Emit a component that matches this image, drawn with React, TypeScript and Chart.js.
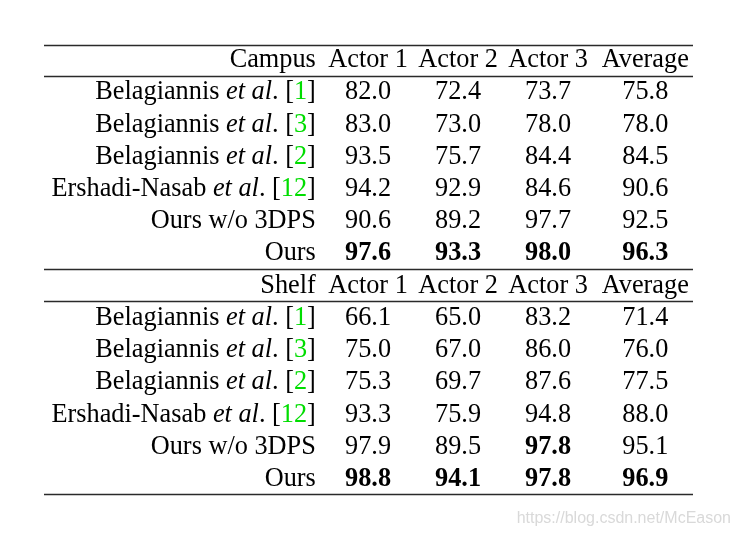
import React, { useEffect, useRef } from "react";
import { Chart, registerables } from "chart.js";

Chart.register(...registerables);

// ---- data ----
const SECTIONS = ["Campus", "Shelf"];
const COLUMN_HEADERS = ["Actor 1", "Actor 2", "Actor 3", "Average"];
const METHOD_NAMES = ["Belagiannis", "Belagiannis", "Belagiannis", "Ershadi-Nasab", "Ours w/o 3DPS", "Ours"];
const METHOD_REFS = ["1", "3", "2", "12", "", ""];

const CAMPUS_ACTOR1 = [82.0, 83.0, 93.5, 94.2, 90.6, 97.6];
const CAMPUS_ACTOR2 = [72.4, 73.0, 75.7, 92.9, 89.2, 93.3];
const CAMPUS_ACTOR3 = [73.7, 78.0, 84.4, 84.6, 97.7, 98.0];
const CAMPUS_AVERAGE = [75.8, 78.0, 84.5, 90.6, 92.5, 96.3];

const SHELF_ACTOR1 = [66.1, 75.0, 75.3, 93.3, 97.9, 98.8];
const SHELF_ACTOR2 = [65.0, 67.0, 69.7, 75.9, 89.5, 94.1];
const SHELF_ACTOR3 = [83.2, 86.0, 87.6, 94.8, 97.8, 97.8];
const SHELF_AVERAGE = [71.4, 76.0, 77.5, 88.0, 95.1, 96.9];

const SECTION_VALUES = [
  [CAMPUS_ACTOR1, CAMPUS_ACTOR2, CAMPUS_ACTOR3, CAMPUS_AVERAGE],
  [SHELF_ACTOR1, SHELF_ACTOR2, SHELF_ACTOR3, SHELF_AVERAGE],
];

const WATERMARK = "https://blog.csdn.net/McEason";

// ---- layout (scale units) ----
const COLUMN_X = [0.42, 1, 2, 3, 4.08]; // first column is right-aligned anchor
const X_MIN = -2.6;
const X_MAX = 4.61;
const Y_MIN = -0.69;
const Y_MAX = 13.25;
const RULES = [Y_MIN, 0.27, 6.27, 7.27, Y_MAX];
const FONT = '"Liberation Serif", "Times New Roman", serif';
const FONT_SIZE = 26.3;

type Cell = { x: number; y: number; text: string; kind: string; ref?: string };

function buildCells(): Cell[] {
  const cells: Cell[] = [];
  SECTIONS.forEach((sec, s) => {
    const base = s * 7;
    cells.push({ x: COLUMN_X[0], y: base, text: sec, kind: "label" });
    COLUMN_HEADERS.forEach((h, c) => cells.push({ x: COLUMN_X[c + 1], y: base, text: h, kind: "normal" }));
    METHOD_NAMES.forEach((m, i) => {
      cells.push({ x: COLUMN_X[0], y: base + 1 + i, text: m, kind: "method", ref: METHOD_REFS[i] });
    });
    SECTION_VALUES[s].forEach((col, c) => {
      const best = Math.max(...col);
      col.forEach((v, i) => {
        cells.push({ x: COLUMN_X[c + 1], y: base + 1 + i, text: v.toFixed(1), kind: v === best ? "bold" : "normal" });
      });
    });
  });
  return cells;
}

const tablePlugin = {
  id: "tableText",
  afterDatasetsDraw(chart: any) {
    const ctx: CanvasRenderingContext2D = chart.ctx;
    const { left, right } = chart.chartArea;
    const yScale = chart.scales.y;
    ctx.save();
    // rules
    ctx.strokeStyle = "#2a2a2a";
    ctx.lineWidth = 1.4;
    RULES.forEach((r) => {
      const y = Math.round(yScale.getPixelForValue(r)) + 0.5;
      ctx.beginPath();
      ctx.moveTo(left, y);
      ctx.lineTo(right, y);
      ctx.stroke();
    });
    // text
    const meta = chart.getDatasetMeta(0);
    const data: Cell[] = chart.data.datasets[0].data;
    ctx.textBaseline = "alphabetic";
    meta.data.forEach((pt: any, i: number) => {
      const cell = data[i];
      const px = pt.x;
      const py = pt.y;
      if (cell.kind === "method" || cell.kind === "label") {
        const segs: { t: string; f: string; c: string }[] = [];
        const normal = `${FONT_SIZE}px ${FONT}`;
        const italic = `italic ${FONT_SIZE}px ${FONT}`;
        segs.push({ t: cell.text, f: normal, c: "#000" });
        if (cell.ref) {
          segs.push({ t: " ", f: normal, c: "#000" });
          segs.push({ t: "et al", f: italic, c: "#000" });
          segs.push({ t: ". [", f: normal, c: "#000" });
          segs.push({ t: cell.ref, f: normal, c: "#00dd00" });
          segs.push({ t: "]", f: normal, c: "#000" });
        }
        let total = 0;
        segs.forEach((s) => {
          ctx.font = s.f;
          total += ctx.measureText(s.t).width;
        });
        let x = px - total;
        ctx.textAlign = "left";
        segs.forEach((s) => {
          ctx.font = s.f;
          ctx.fillStyle = s.c;
          ctx.fillText(s.t, x, py);
          x += ctx.measureText(s.t).width;
        });
      } else {
        ctx.font = `${cell.kind === "bold" ? "bold " : ""}${FONT_SIZE}px ${FONT}`;
        ctx.fillStyle = "#000";
        ctx.textAlign = "center";
        ctx.fillText(cell.text, px, py);
      }
    });
    // watermark
    ctx.font = '16px "Liberation Sans", Arial, sans-serif';
    ctx.fillStyle = "#d9d9d9";
    ctx.textAlign = "right";
    ctx.fillText(WATERMARK, chart.width - 8, 523);
    ctx.restore();
  },
};

export default function App() {
  const ref = useRef<HTMLCanvasElement | null>(null);
  useEffect(() => {
    if (!ref.current) return;
    const chart = new Chart(ref.current, {
      type: "scatter",
      data: {
        datasets: [
          {
            data: buildCells() as any,
            pointRadius: 0,
            pointHoverRadius: 0,
            showLine: false,
          },
        ],
      },
      options: {
        responsive: false,
        animation: false,
        events: [],
        layout: { padding: { left: 44, right: 46, top: 45, bottom: 43 } },
        plugins: { legend: { display: false }, tooltip: { enabled: false } },
        scales: {
          x: { type: "linear", min: X_MIN, max: X_MAX, display: false },
          y: { type: "linear", min: Y_MIN, max: Y_MAX, reverse: true, display: false },
        },
      },
      plugins: [tablePlugin],
    });
    return () => chart.destroy();
  }, []);
  return (
    <div style={{ position: "fixed", left: 0, top: 0, width: 739, height: 537, background: "#fff" }}>
      <canvas ref={ref} width={739} height={537} style={{ display: "block" }} />
    </div>
  );
}
